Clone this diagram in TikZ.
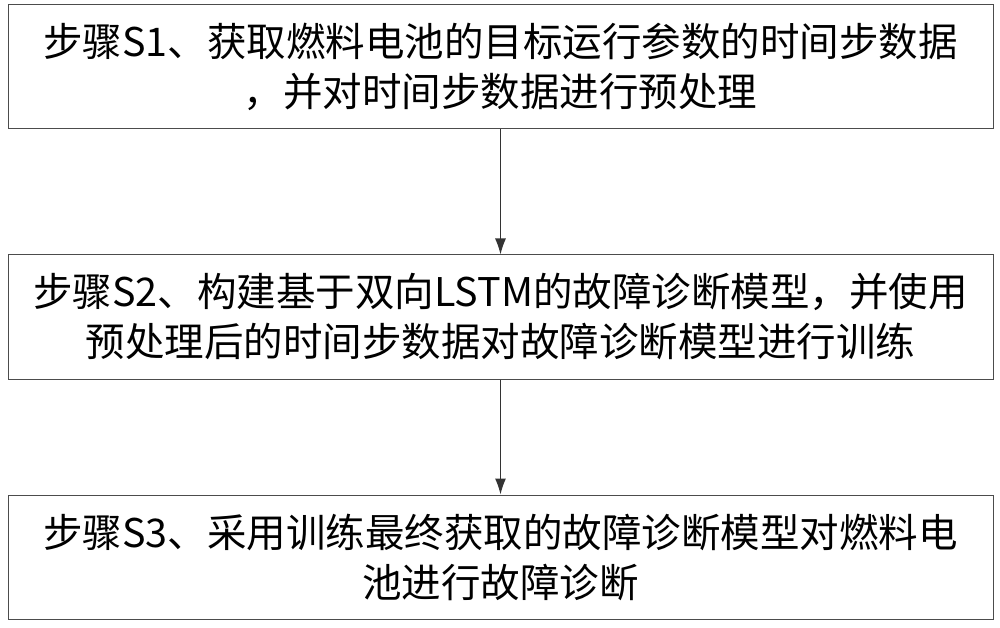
\documentclass[tikz,border=0pt]{standalone}
\usepackage{fontspec}
\usetikzlibrary{arrows.meta}
\newfontfamily\cjk{Noto Sans CJK SC}
\begin{document}
\begin{tikzpicture}[x=1pt,y=1pt,
  stepbox/.style={draw=black!70,line width=1pt,minimum width=985pt,minimum height=124pt,align=center,font=\cjk\fontsize{39.5}{50}\selectfont,inner sep=0pt},
  arr/.style={-{Latex[length=16pt,width=11pt]},line width=1.2pt,black!80}]
\useasboundingbox (0,0) rectangle (1000,627);
\node[stepbox] (s1) at (500.5,560) {步骤S1、获取燃料电池的目标运行参数的时间步数据\\，并对时间步数据进行预处理};
\node[stepbox] (s2) at (500.5,310) {步骤S2、构建基于双向LSTM的故障诊断模型，并使用\\预处理后的时间步数据对故障诊断模型进行训练};
\node[stepbox] (s3) at (500.5,70) {步骤S3、采用训练最终获取的故障诊断模型对燃料电\\池进行故障诊断};
\draw[arr] (s1) -- (s2);
\draw[arr] (s2) -- (s3);
\end{tikzpicture}
\end{document}
